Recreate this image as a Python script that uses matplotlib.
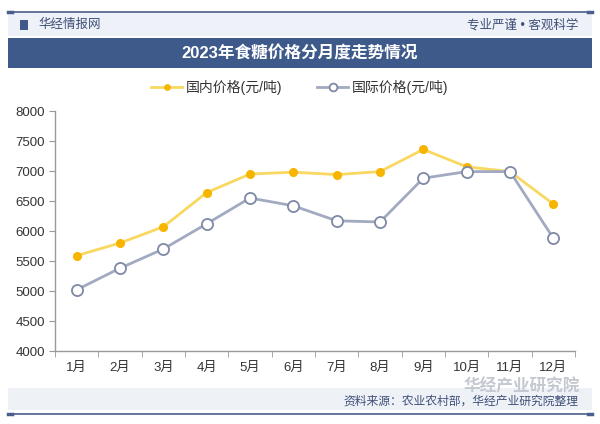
import matplotlib.pyplot as plt
from matplotlib.patches import Rectangle
from matplotlib.lines import Line2D

plt.rcParams['font.family'] = ['Liberation Sans', 'Noto Sans CJK SC', 'DejaVu Sans']

months = ['1月', '2月', '3月', '4月', '5月', '6月', '7月', '8月', '9月', '10月', '11月', '12月']
domestic = [5590, 5800, 6070, 6640, 6950, 6980, 6940, 6990, 7360, 7070, 6990, 6450]
international = [5020, 5380, 5700, 6120, 6550, 6420, 6170, 6150, 6880, 6990, 6990, 5880]
yticks = [4000, 4500, 5000, 5500, 6000, 6500, 7000, 7500, 8000]

title = '2023年食糖价格分月度走势情况'
label_dom = '国内价格(元/吨)'
label_int = '国际价格(元/吨)'
source = '资料来源：农业农村部，华经产业研究院整理'

W, H = 600, 424
fig = plt.figure(figsize=(6, 4.24), dpi=100, facecolor='white')

def fx(px):
    return px / W

def fy(py):
    return 1 - py / H

# header / footer decoration
fig.patches.append(Rectangle((fx(8), fy(36)), fx(584), 24 / H, transform=fig.transFigure,
                             facecolor='#eef2f8', edgecolor='none', zorder=0))
fig.patches.append(Rectangle((fx(8), fy(68)), fx(584), 30 / H, transform=fig.transFigure,
                             facecolor='#3e5a8a', edgecolor='none', zorder=1))
fig.patches.append(Rectangle((fx(8), fy(410)), fx(584), 22 / H, transform=fig.transFigure,
                             facecolor='#eef1f6', edgecolor='none', zorder=0))
for yy in (12, 414):
    fig.add_artist(Line2D([fx(8), fx(592)], [fy(yy), fy(yy)], transform=fig.transFigure,
                          color='#4a5f8c', lw=1.2))
    fig.add_artist(Line2D([fx(8), fx(12)], [fy(yy), fy(yy)], transform=fig.transFigure,
                          color='#4a5f8c', lw=2.5))
    fig.add_artist(Line2D([fx(588), fx(592)], [fy(yy), fy(yy)], transform=fig.transFigure,
                          color='#4a5f8c', lw=2.5))

fig.patches.append(Rectangle((fx(20), fy(30)), fx(8), 10 / H, transform=fig.transFigure,
                             facecolor='#3e5a8a', edgecolor='none', zorder=2))
fig.text(fx(38), fy(25), '华经情报网', fontsize=9, color='#3e4f78', va='center', ha='left')
fig.text(fx(578), fy(25), '专业严谨 • 客观科学', fontsize=9, color='#3e4f78', va='center', ha='right')
fig.text(fx(300), fy(53), title, fontsize=12, color='white', va='center', ha='center',
         fontweight='bold', zorder=3)

# watermark logo bottom right
fig.text(fx(580), fy(386), '华经产业研究院', fontsize=12, color='#c4c8d0', va='center',
         ha='right', fontweight='bold', zorder=1)
fig.text(fx(578), fy(402), source, fontsize=8.5, color='#3e4f78', va='center', ha='right', zorder=3)

ax = fig.add_axes([fx(55), fy(351), fx(520), 240 / H])
ax.set_facecolor('none')
x = list(range(len(months)))

ax.plot(x, domestic, color='#f8d860', lw=2, marker='o', markersize=5.5,
        markerfacecolor='#f7b500', markeredgecolor='#f7b500', label=label_dom, zorder=3)
ax.plot(x, international, color='#a2aac2', lw=2, marker='o', markersize=8,
        markerfacecolor='white', markeredgecolor='#7f89a6', markeredgewidth=1.3,
        label=label_int, zorder=4)

ax.set_xlim(-0.5, len(months) - 0.5)
ax.set_ylim(4000, 8000)
ax.set_yticks(yticks)
ax.set_xticks(x)
ax.set_xticklabels(months)
ax.set_xticks([i - 0.5 for i in range(len(months) + 1)], minor=True)
ax.tick_params(axis='x', which='major', length=0, pad=8, labelsize=9.5, colors='#333333')
ax.tick_params(axis='x', which='minor', length=4, color='#999999')
ax.tick_params(axis='y', length=4, color='#999999', labelsize=9.5, colors='#333333', pad=3)
for s in ('top', 'right'):
    ax.spines[s].set_visible(False)
for s in ('left', 'bottom'):
    ax.spines[s].set_color('#999999')
    ax.spines[s].set_linewidth(1)

leg = fig.legend(loc='center', bbox_to_anchor=(fx(300), fy(87)), ncol=2, frameon=False,
                 fontsize=10, handlelength=2.2, columnspacing=2.5, handletextpad=0.3,
                 markerscale=0.7)
for t in leg.get_texts():
    t.set_color('#333333')

fig.savefig('out.png', dpi=100, facecolor='white')
